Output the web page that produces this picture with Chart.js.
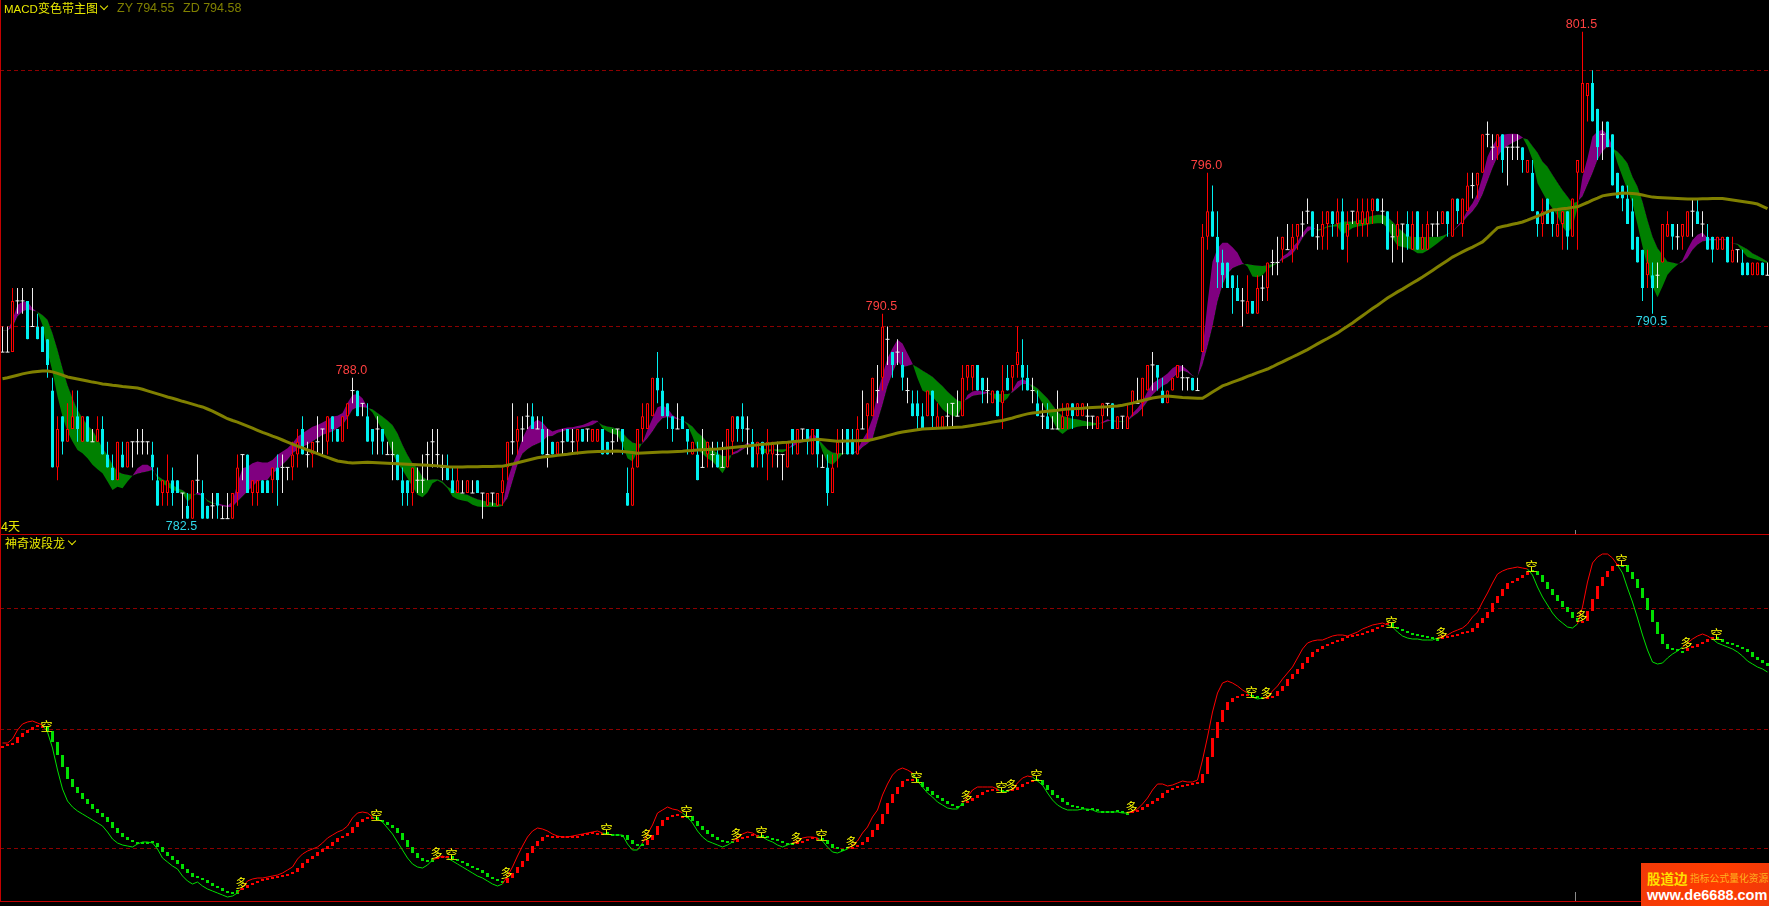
<!DOCTYPE html>
<html>
<head>
<meta charset="utf-8">
<title>MACD变色带主图</title>
<script src="https://cdn.jsdelivr.net/npm/chart.js@4/dist/chart.umd.min.js"></script>
<style>
    html, body { margin: 0; padding: 0; width: 1769px; height: 906px; background: #000; overflow: hidden; }
    canvas { position: absolute; left: 0; display: block; }
    #priceChart { top: 0; }
    #waveChart { top: 534px; }
    .rule { position: absolute; background: #c40000; }
    .mark { position: absolute; background: #8a8a8a; width: 1px; }
    .txt { position: absolute; white-space: pre; font: 12px/14px "Noto Sans CJK SC", sans-serif; color: #e8e800; }
    .num { font: 12.5px/14px "Liberation Sans", sans-serif; color: #808000; }
    .chev { position: absolute; width: 5px; height: 5px; border: solid #e8e800; border-width: 0 1px 1px 0; transform: rotate(45deg); }
    #logo { position: absolute; left: 1641px; top: 863px; width: 128px; height: 43px; overflow: hidden;
            background: linear-gradient(100deg, #f23a08, #ff3c00 60%, #f03a0a); }
    #logo span { position: absolute; white-space: pre; }
</style>
</head>
<body>
<canvas id="priceChart" width="1770" height="534"></canvas>
<canvas id="waveChart" width="1770" height="368"></canvas>

<div class="rule" style="left:0;top:0;width:1px;height:902px"></div>
<div class="rule" style="left:0;top:534px;width:1769px;height:1px"></div>
<div class="rule" style="left:0;top:901px;width:1769px;height:1px"></div>
<div class="mark" style="left:1575px;top:530px;height:4px"></div>
<div class="mark" style="left:1575px;top:892px;height:9px"></div>

<div class="txt" style="left:4px;top:1px"><span style="font:11.5px/14px 'Liberation Sans',sans-serif">MACD</span>变色带主图</div>
<div class="chev" style="left:101px;top:3px"></div>
<div class="txt num" style="left:117px;top:1px">ZY 794.55</div>
<div class="txt num" style="left:183px;top:1px">ZD 794.58</div>
<div class="txt" style="left:1px;top:519px"><span style="font:12.5px/14px 'Liberation Sans',sans-serif">4</span>天</div>
<div class="txt" style="left:5px;top:536px">神奇波段龙</div>
<div class="chev" style="left:69px;top:538px"></div>

<div id="logo">
    <span style="left:6px;top:4px;font:bold 13.5px/22px 'Noto Sans CJK SC',sans-serif;color:#ffe000">股道边</span>
    <span style="left:49px;top:8px;font:9.8px/14px 'Noto Sans CJK SC',sans-serif;color:#ffb020">指标公式量化资源</span>
    <span style="left:6px;top:23px;font:bold 14.5px/18px 'Liberation Sans',sans-serif;color:#fff">www.de6688.com</span>
</div>

<script>
// Price panel, one value per candle
const openPrice = [
    789,789,789,791,791,791,790,790,790,789.5,
    787.5,784.5,786.5,785.5,786,786.5,785.5,786.5,785.5,785.5,
    786,785,784.5,784,785,784.5,785.5,785.5,785.5,785.5,
    785,784,783.5,783.5,784,784,783.5,783,782.5,784,
    783.5,783,783,783.5,782.5,782.5,782.5,783.5,785,785,
    783.5,783.5,784,784,784,784.5,784.5,784.5,784.5,785,
    786,785,785,785.5,786,785.5,786.5,786,785.5,786.5,
    787.5,787.5,787,786.5,786,786,786,785,785,785,
    784,784,783.5,784,784,785,785.5,785,784.5,784.5,
    784,783.5,783.5,783.5,783.5,784,783.5,783,783.5,783,
    783.5,784.5,785.5,785.5,786,786.5,786.5,786,786,785,
    785.5,785,785.5,786,785.5,785.5,786,786,785.5,785.5,
    786,785.5,785.5,786,786,783.5,783,784.5,786,786,
    786.5,788,787.5,787,786.5,786,786.5,786,785,785,
    784.5,785,785,785,784.5,784.5,785.5,786.5,786.5,786,
    785.5,785,785.5,785,785,785,785,784.5,786,785,
    786,786,785,786,784.5,784.5,783.5,785,785.5,786,
    785.5,785,786,786.5,786.5,787.5,788,789.5,789,789,
    788.5,787.5,787,787,786.5,786.5,787.5,786,786,786.5,
    787,786.5,786.5,788,788,788.5,788,787.5,787,787.5,
    787,788,788,788.5,788.5,788,787.5,787,786.5,786.5,
    786,786,786,786.5,787,786.5,786.5,786.5,786.5,786,
    786.5,787,787,786,786.5,786,787,787,787,787.5,
    788.5,788.5,787.5,787,787.5,788,788,788,788,787.5,
    789,793.5,794.5,793.5,792.5,792.5,792,791.5,791,790.5,
    791,790.5,791.5,791.5,792.5,792.5,793,793,793,793.5,
    794,794.5,794.5,793.5,793.5,794,794.5,794,794.5,793.5,
    794.5,794,794,794,794.5,795,794.5,794.5,793.5,793.5,
    794,794,793,794.5,793,793,794,794,794,794.5,
    793.5,795,794,794.5,795.5,795.5,796,797.5,797,797,
    797.5,797,797,797,797,796,796,794.5,794,795,
    794.5,793.5,794,794.5,793.5,796,796,799,799.5,798.5,
    797.5,798,797.5,796,795.5,795,794.5,793.5,793,792,
    792,792,792.5,793.5,794,793.5,793.5,793.5,794.5,794.5,
    794,793.5,793.5,793,793,793.5,792.5,793,792.5,792.5,
    792,792,792.5,792
];
const closePrice = [
    789,789,791,791,791,789.5,790,789.5,789,788.5,
    784.5,786,785.5,786,786.5,786,786.5,785.5,785.5,786,
    785,784.5,784,785.5,784.5,785.5,785.5,785.5,785.5,785.5,
    784.5,783,784,784,783.5,783.5,783.5,782.5,784,784,
    782.5,782.5,783,783,782.5,782.5,783.5,784.5,785,783.5,
    784,784,783.5,783.5,784.5,784,784.5,784.5,785,785.5,
    785,785,785.5,785.5,786,786.5,786,785.5,786.5,787,
    787.5,786.5,787,785.5,785.5,786,785.5,785,785,784,
    783.5,783.5,784.5,784,784,785,785.5,785,784.5,784,
    783.5,784,783.5,784,783.5,783.5,783.5,783.5,783.5,783.5,
    784,785.5,785.5,786,786,786.5,786,786,785,785,
    785,785.5,785.5,785.5,785.5,786,785.5,786,786,786,
    785,785,785.5,786,785.5,783,784.5,786,786.5,787,
    788,787.5,786.5,786.5,786,786,786,785.5,785.5,784,
    784.5,785.5,785,784.5,784.5,786,786.5,786,786,786,
    784.5,785.5,785,785.5,785.5,785,785,785.5,785.5,786,
    786,785.5,786,785,784.5,783.5,784.5,785.5,785.5,785,
    785,786,786,787,788,787.5,790,789.5,788.5,789,
    788,787.5,786.5,786.5,786,787.5,786.5,786.5,786.5,786.5,
    787,786.5,788,788.5,788.5,787.5,787.5,787.5,787.5,786.5,
    787.5,787.5,788.5,789,788,787.5,787.5,786.5,786.5,786,
    786,786,786.5,787,786.5,787,787,786.5,786.5,786.5,
    787,787,786,786.5,786.5,786.5,787.5,787,788,788.5,
    788.5,788,787,787.5,788,788.5,788,788,787.5,787.5,
    793.5,794.5,793.5,792.5,792,791.5,791.5,791,791,791,
    790.5,791.5,791.5,792.5,792.5,792.5,793.5,793,793.5,794,
    794,794.5,793.5,793.5,794,794.5,794,794.5,793,794,
    794.5,794.5,794.5,794.5,795,794.5,794.5,793,793.5,794,
    794,793.5,794,793,793.5,794,794,794,794.5,794,
    795,794.5,795,795.5,795.5,796,797.5,797.5,797,797.5,
    796.5,797,797,797,796.5,796.5,794.5,794,794.5,794,
    794,794,794.5,793.5,795,796.5,799.5,799.5,798,797,
    797.5,797,795.5,795,795,794,793,792.5,791.5,792.5,
    791.5,792,794,794,793.5,793.5,794,794.5,794.5,794,
    794,793,793,793.5,793.5,792.5,793,793,792,792,
    792.5,792.5,792,792
];
const highPrice = [
    790,790,791.5,791.5,791.5,791,791.5,790.5,790,789.5,
    788,786.5,786.5,787,787.5,787.5,786.5,786.5,786,786.5,
    786.5,785.5,785,785.5,785.5,785.5,785.5,786,786,785.5,
    785.5,784.5,784,785,784.5,784,783.5,783.5,784,785,
    784,783,783.5,783.5,783,783.5,783.5,785,785,785,
    784,784,784,784,784.5,785,785,784.5,785.5,786,
    786.5,785.5,785.5,786.5,786,786.5,786.5,786,786.5,787,
    788,787.5,787,787,786,786.5,786,785.5,785.5,785,
    784.5,784,784.5,784.5,785,785.5,786,786,785,785,
    784.5,784.5,784,784,784,784,783.5,783.5,783.5,783.5,
    784.5,785.5,787,786.5,786.5,787,787,786.5,786.5,786,
    785.5,785.5,786,786,786,786,786,786,786,786,
    786,785.5,786,786,786,784.5,785,786,787,787,
    788,789,788,787,786.5,787,786.5,786,785.5,785.5,
    786,785.5,785.5,785.5,785.5,786,786.5,786.5,787,786.5,
    786,785.5,785.5,786,785.5,785.5,785,785.5,786,786,
    786,786,786,786,785,785,785,786,786,786,
    786,786.5,787.5,787,788,788.5,790.5,790,789,789.5,
    789,788,787.5,787.5,787,787.5,787.5,787,786.5,787,
    787,787.5,788.5,788.5,788.5,788.5,788,788,787.5,787.5,
    788.5,788.5,788.5,790,789.5,788.5,788,787.5,787,787,
    786.5,787.5,787,787,787,787,787,787,786.5,786.5,
    787,787,787,786.5,786.5,787,787.5,788,788,788.5,
    789,788.5,788,787.5,788,788.5,788.5,788,788,788,
    794,796,795.5,794.5,793,792.5,792,792,791.5,792,
    791,792,792,792.5,793,793.5,793.5,794,794,794,
    794.5,795,794.5,794,794.5,794.5,794.5,795,795,794.5,
    794.5,795,795,795,795,795,795,794.5,794,794.5,
    794,794.5,794.5,794.5,794,794.5,794,794.5,794.5,794.5,
    795,795,795,796,796,796,797.5,798,797.5,797.5,
    797.5,797,797.5,797.5,797,796.5,796.5,794.5,795,795,
    794.5,794.5,794.5,794.5,795,796.5,801.5,799.5,800,798.5,
    798,798,797.5,796,795.5,795.5,795,793.5,793,793,
    792.5,792.5,794,794.5,794,794,794,794.5,795,795,
    794.5,794,793.5,793.5,793.5,793.5,793.5,793,793,792.5,
    792.5,792.5,792.5,792.5
];
const lowPrice = [
    789,789,789,790.5,790.5,789.5,790,789.5,789,788,
    784.5,784,785,785.5,786,785.5,785.5,785.5,785.5,785.5,
    785,784.5,784,784,784.5,784.5,784.5,785,785,785,
    784,783,783,783,783,783.5,782.5,782.5,782.5,783.5,
    782.5,782.5,782.5,782.5,782.5,782.5,782.5,783,784,783.5,
    783,783,783.5,783.5,783.5,783,783.5,784,784,784.5,
    785,784.5,784.5,785,785,785,785.5,785.5,785.5,786,
    787,786.5,786.5,785.5,785,785,785,785,784,784,
    783,783,783,783.5,783.5,784,784.5,784.5,784,784,
    783.5,783.5,783.5,783.5,783.5,783.5,782.5,783,783,783,
    783,784,785,785,785.5,786,786,786,785,784.5,
    785,785,785,785.5,785,785,785.5,785.5,785.5,785.5,
    785,785,785,785.5,785,783,783,784.5,785.5,786,
    786.5,787,786.5,786,785.5,786,786,785,785,784,
    784.5,784.5,784.5,784.5,784.5,784.5,785,785.5,785.5,785,
    784.5,784.5,784.5,784,784.5,784.5,784,784.5,785,785,
    785.5,785,785,784.5,784.5,783,783.5,784.5,785,785,
    785,785,786,785.5,786.5,787,787.5,788.5,788,788.5,
    787.5,787,786.5,786,786,786.5,786,786,786,786,
    786,786.5,786.5,787.5,787.5,787.5,787,787,787,786.5,
    786,787.5,787.5,788,787.5,787.5,787,786.5,786,786,
    786,786,786,786,786,786.5,786.5,786,786,786,
    786,786.5,786,786,786,786,786.5,787,786.5,787.5,
    787.5,787.5,787,787,787.5,788,787.5,787.5,787.5,787.5,
    789,793,793.5,791.5,791.5,791.5,790.5,791,790,790.5,
    790.5,790.5,791,791,792,792,792.5,793,792.5,793,
    793.5,794,793.5,793,793,793,793.5,793.5,793,792.5,
    794,793.5,793.5,793.5,794,794.5,794,793,792.5,793,
    792.5,793,793,793,793,793,793.5,793.5,794,793.5,
    793.5,794,793.5,794.5,795,795,796,797,796.5,796.5,
    796,795.5,796.5,796.5,796,796,794.5,793.5,793.5,794,
    793.5,793.5,793,793,793.5,793,796,798,798,796.5,
    796.5,797,795.5,795,794.5,794,793,792.5,791,791.5,
    790.5,791.5,792.5,793.5,793,793,793,793.5,793.5,794,
    793.5,793,792.5,793,793,792.5,792.5,792.5,792,792,
    792,792,792,792
];

// The two edges of the colour band: purple where bandFast is above bandSlow, green below
const bandFast = [
    789.82,789.82,790.26,790.84,790.97,790.97,790.71,790.56,790.06,789.02,
    788.24,787.27,786.49,785.90,785.51,785.18,785.05,784.86,784.60,784.43,
    784.27,783.95,783.62,783.75,783.69,783.95,784.17,784.47,784.60,784.60,
    784.47,784.08,783.88,783.75,783.62,783.56,783.49,783.17,783.34,783.55,
    783.43,783.17,783.08,783.10,783.04,783.00,783.17,783.88,784.47,784.53,
    784.66,784.73,784.69,784.69,784.79,784.99,785.12,785.25,785.44,785.70,
    785.83,785.96,786.09,786.16,786.25,786.36,786.49,786.52,786.62,787.01,
    787.33,787.37,787.20,786.84,786.64,786.29,785.96,785.57,785.05,784.66,
    784.40,784.08,783.75,783.43,783.34,783.52,783.88,783.99,783.88,783.69,
    783.36,783.26,783.21,783.17,783.04,782.97,782.95,782.95,782.95,782.95,
    783.00,784.01,784.60,785.06,785.64,786.03,786.23,786.36,786.25,786.03,
    785.90,785.97,786.02,786.06,786.07,786.12,786.16,786.23,786.33,786.32,
    786.03,785.90,785.81,785.77,785.38,784.86,784.73,785.12,785.47,785.97,
    786.42,786.85,786.92,786.81,786.55,786.42,786.36,786.16,785.71,785.19,
    785.03,784.86,784.73,784.53,784.27,784.60,785.08,785.16,785.31,785.47,
    785.37,785.31,785.06,785.06,785.19,785.12,785.08,785.19,785.42,785.55,
    785.58,785.64,785.81,785.68,785.12,784.69,784.60,784.79,785.03,785.03,
    785.04,785.19,785.58,785.90,786.42,787.40,788.11,788.76,789.15,789.48,
    789.34,788.95,788.56,787.98,787.50,787.39,787.26,787.03,786.77,786.61,
    786.51,786.48,786.94,787.33,787.46,787.50,787.46,787.44,787.26,787.07,
    787.03,787.20,787.52,787.85,787.94,787.85,787.59,787.33,787.00,786.64,
    786.35,785.96,785.80,785.96,786.03,786.09,786.12,786.12,786.14,786.17,
    786.27,786.38,786.30,786.27,786.29,786.33,786.61,786.81,787.07,787.46,
    787.78,787.91,788.02,788.17,788.37,788.49,788.46,788.30,788.09,788.03,
    789.08,790.90,792.53,793.05,793.27,793.27,793.09,792.88,792.49,792.34,
    791.95,791.92,792.00,792.23,792.36,792.47,792.73,792.86,793.09,793.31,
    793.64,793.90,793.90,793.74,793.79,793.87,793.90,793.90,793.58,793.71,
    793.84,793.90,793.93,793.97,794.01,794.03,794.03,793.84,793.45,793.15,
    793.10,793.06,792.99,792.86,792.86,792.97,793.10,793.25,793.41,793.59,
    793.71,793.93,794.16,794.55,794.81,795.20,795.85,796.63,797.05,797.35,
    797.48,797.51,797.52,797.51,797.39,797.03,796.51,795.59,795.23,794.88,
    794.62,794.32,793.90,793.64,793.90,794.62,795.85,796.57,797.42,797.61,
    797.68,797.48,797.03,796.37,795.85,795.33,794.81,793.97,793.12,792.34,
    791.56,791.14,791.56,792.02,792.24,792.41,792.60,793.02,793.38,793.58,
    793.67,793.45,793.41,793.43,793.43,793.38,793.24,793.19,792.93,792.71,
    792.65,792.60,792.54,792.47
];
const bandSlow = [
    789.84,789.84,789.97,790.39,790.58,790.67,790.61,790.58,790.45,790.26,
    789.74,789.09,788.37,787.72,787.20,786.75,786.42,786.16,785.94,785.64,
    785.25,784.99,784.60,784.34,784.25,784.21,784.17,784.25,784.30,784.34,
    784.40,784.17,784.04,783.95,783.82,783.69,783.62,783.47,783.47,783.43,
    783.39,783.23,783.13,783.04,782.97,782.95,782.95,783.17,783.36,783.56,
    783.75,783.95,784.01,784.01,784.27,784.40,784.60,784.79,785.05,785.18,
    785.31,785.38,785.51,785.64,785.77,785.83,785.90,786.03,786.16,786.42,
    786.75,786.85,786.85,786.82,786.77,786.62,786.49,786.33,786.16,785.83,
    785.38,784.99,784.66,784.47,784.14,784.01,784.04,784.04,783.95,783.75,
    783.65,783.56,783.47,783.43,783.34,783.26,783.21,783.16,783.13,783.09,
    783.03,783.30,783.95,784.60,785.03,785.21,785.34,785.42,785.51,785.71,
    785.73,785.84,785.90,785.97,785.99,786.02,786.06,786.10,786.16,786.27,
    786.16,786.10,786.07,785.99,785.86,785.64,785.47,785.42,785.42,785.64,
    785.90,786.20,786.42,786.46,786.42,786.38,786.34,786.23,786.10,785.86,
    785.71,785.45,785.19,785.06,784.95,784.95,784.99,785.06,785.19,785.31,
    785.34,785.30,785.24,785.21,785.21,785.21,785.21,785.22,785.31,785.42,
    785.47,785.55,785.60,785.63,785.42,785.21,785.08,785.06,785.06,785.04,
    785.06,785.08,785.29,785.42,785.60,786.29,786.94,787.66,788.18,788.63,
    788.41,788.46,788.52,788.41,788.28,788.17,788.04,787.85,787.68,787.46,
    787.29,787.11,787.07,787.16,787.29,787.33,787.35,787.39,787.39,787.37,
    787.37,787.37,787.42,787.59,787.76,787.76,787.72,787.59,787.39,787.20,
    786.94,786.68,786.51,786.46,786.40,786.38,786.33,786.29,786.25,786.22,
    786.22,786.29,786.35,786.31,786.31,786.31,786.48,786.61,786.81,787.07,
    787.33,787.52,787.68,787.78,787.98,788.17,788.28,788.20,788.07,788.04,
    788.50,789.21,789.99,790.97,791.62,792.05,792.27,792.36,792.43,792.44,
    792.40,792.38,792.36,792.40,792.44,792.49,792.60,792.70,792.83,793.09,
    793.44,793.70,793.82,793.79,793.83,793.92,793.95,794.03,794.10,794.10,
    794.10,794.14,794.19,794.27,794.32,794.36,794.36,794.27,794.10,793.88,
    793.71,793.54,793.49,793.49,793.49,793.49,793.49,793.49,793.54,793.62,
    793.70,793.88,794.06,794.29,794.49,794.75,795.14,795.66,796.18,796.63,
    796.90,797.05,797.16,797.26,797.36,797.31,797.05,796.79,796.44,796.24,
    795.92,795.62,795.33,795.07,794.81,794.88,795.07,795.53,795.98,796.50,
    796.83,797.03,796.96,796.83,796.63,796.37,795.85,795.46,794.88,794.16,
    793.51,793.06,792.80,792.54,792.50,792.45,792.50,792.67,792.99,793.19,
    793.32,793.36,793.36,793.37,793.38,793.37,793.25,793.23,793.12,793.02,
    792.86,792.76,792.65,792.54
];
const maLine = [
    787.96,788.00,788.05,788.10,788.15,788.19,788.22,788.24,788.26,788.26,
    788.23,788.17,788.10,788.03,787.99,787.95,787.91,787.87,787.83,787.80,
    787.76,787.74,787.71,787.69,787.66,787.64,787.62,787.60,787.55,787.49,
    787.43,787.37,787.31,787.25,787.20,787.14,787.08,787.03,786.97,786.91,
    786.86,786.78,786.70,786.60,786.50,786.40,786.33,786.27,786.19,786.11,
    786.03,785.95,785.87,785.80,785.72,785.65,785.57,785.49,785.41,785.33,
    785.26,785.18,785.11,785.04,784.96,784.89,784.82,784.75,784.72,784.69,
    784.67,784.68,784.69,784.70,784.69,784.68,784.67,784.66,784.65,784.64,
    784.63,784.62,784.61,784.60,784.59,784.58,784.57,784.56,784.55,784.53,
    784.52,784.52,784.52,784.53,784.53,784.53,784.54,784.54,784.54,784.55,
    784.55,784.59,784.63,784.68,784.73,784.78,784.83,784.88,784.91,784.93,
    784.95,784.97,784.99,785.01,785.04,785.06,785.08,785.10,785.11,785.12,
    785.12,785.13,785.13,785.14,785.12,785.10,785.08,785.05,785.06,785.07,
    785.08,785.09,785.10,785.10,785.11,785.12,785.13,785.15,785.16,785.18,
    785.19,785.20,785.21,785.22,785.24,785.26,785.28,785.30,785.32,785.34,
    785.36,785.38,785.40,785.41,785.43,785.45,785.47,785.48,785.50,785.52,
    785.54,785.56,785.58,785.60,785.58,785.56,785.54,785.52,785.53,785.53,
    785.54,785.54,785.55,785.55,785.59,785.64,785.69,785.74,785.79,785.84,
    785.88,785.91,785.94,785.97,786.00,786.01,786.02,786.03,786.04,786.05,
    786.06,786.07,786.08,786.11,786.14,786.17,786.20,786.23,786.27,786.30,
    786.33,786.38,786.43,786.49,786.54,786.59,786.62,786.64,786.67,786.69,
    786.71,786.73,786.76,786.78,786.79,786.80,786.81,786.83,786.84,786.85,
    786.86,786.87,786.89,786.90,786.93,786.97,787.01,787.06,787.11,787.16,
    787.21,787.24,787.27,787.29,787.27,787.25,787.23,787.22,787.21,787.20,
    787.20,787.32,787.44,787.56,787.68,787.75,787.83,787.90,787.97,788.05,
    788.12,788.20,788.27,788.34,788.43,788.53,788.62,788.72,788.81,788.90,
    789.00,789.10,789.21,789.32,789.43,789.53,789.64,789.75,789.88,790.01,
    790.14,790.28,790.42,790.56,790.70,790.83,790.97,791.11,791.23,791.35,
    791.46,791.58,791.70,791.81,791.93,792.06,792.19,792.32,792.45,792.58,
    792.71,792.81,792.91,793.01,793.10,793.20,793.30,793.48,793.67,793.85,
    793.90,793.94,793.99,794.03,794.08,794.15,794.23,794.31,794.39,794.47,
    794.55,794.57,794.60,794.62,794.65,794.67,794.76,794.84,794.93,795.01,
    795.10,795.13,795.16,795.18,795.21,795.20,795.19,795.17,795.13,795.09,
    795.05,795.04,795.03,795.02,795.01,795.00,794.99,794.98,794.98,794.98,
    794.99,794.99,795.00,795.00,795.00,794.97,794.94,794.91,794.88,794.85,
    794.82,794.78,794.69,794.60
];
const priceLevels = [790, 800];
const highMarks = [70, 176, 241, 316];
const lowMarks = [36, 330];

// Wave panel (the scale has no labels, so the units are arbitrary)
const waveBlock = [
    155,156,158,164,168,171,174,175,175,170,
    159,146,134,122,114,108,102,97,92,88,
    84,79,73,68,64,61,59,59,59,59,
    58,54,49,45,41,37,32,28,24,23,
    21,18,15,13,10,8,7,11,13,16,
    18,20,21,22,23,24,25,27,29,33,
    38,42,45,49,52,55,59,63,65,68,
    74,79,82,84,84,81,79,76,73,68,
    61,54,48,43,40,39,42,43,45,45,
    42,40,38,35,33,31,28,24,22,20,
    18,23,28,34,40,48,55,60,64,65,
    65,65,65,65,65,65,66,67,68,68,
    68,67,65,66,66,61,57,55,56,61,
    66,75,81,84,86,85,85,85,80,75,
    71,67,64,61,59,58,59,62,63,65,
    66,66,64,63,61,60,58,56,57,58,
    60,62,63,63,61,57,53,52,52,54,
    54,56,59,64,71,77,87,98,107,114,
    120,122,122,119,114,110,106,103,100,97,
    95,95,98,100,103,106,109,110,111,110,
    109,110,111,114,117,119,120,121,116,111,
    106,103,99,96,94,93,92,92,91,90,
    90,90,90,89,88,88,89,91,94,97,
    100,103,108,111,113,114,115,116,117,118,
    127,144,163,179,191,199,203,205,206,205,
    204,203,202,203,205,210,215,222,227,232,
    238,244,249,252,255,257,259,260,263,264,
    265,266,268,269,272,274,276,278,274,272,
    270,268,266,265,264,263,262,262,263,264,
    265,267,268,269,273,278,283,289,298,305,
    312,318,320,323,326,329,330,326,319,312,
    306,300,294,289,283,280,280,290,302,315,
    324,330,335,336,336,329,322,313,303,291,
    279,267,257,252,251,250,250,253,254,257,
    259,262,263,262,259,257,256,254,252,249,
    244,241,238,235
];
const waveLine = [
    158,158,162,171,177,179,180,178,176,169,
    153,131,112,100,94,90,87,84,81,78,
    75,69,62,58,56,55,54,57,59,59,
    58,52,43,39,35,32,25,20,17,19,
    15,12,10,8,6,4,5,8,14,20,
    22,23,23,24,25,26,28,31,34,42,
    47,50,52,54,58,63,66,69,71,75,
    83,88,89,88,84,82,79,73,67,59,
    51,43,37,34,33,36,41,43,45,43,
    40,37,34,31,28,25,23,20,17,15,
    17,25,34,45,55,64,70,73,72,70,
    67,65,64,64,65,66,67,68,69,70,
    68,67,66,66,66,57,51,51,58,67,
    76,88,91,94,92,91,88,84,78,70,
    64,60,58,56,54,56,59,64,67,69,
    68,65,64,61,59,56,54,56,58,60,
    63,64,64,63,60,54,49,48,50,52,
    56,60,68,74,84,91,106,117,126,131,
    133,131,128,120,114,108,104,99,96,93,
    92,92,98,104,111,114,114,114,114,112,
    109,110,112,118,123,125,124,120,116,108,
    101,96,93,91,91,91,92,92,91,89,
    89,89,89,89,88,88,89,92,97,103,
    111,117,117,115,116,118,120,119,119,121,
    141,164,189,208,218,220,218,215,211,208,
    204,202,203,204,210,215,222,228,234,243,
    252,258,260,261,261,263,265,266,266,265,
    267,269,272,274,276,277,278,276,274,269,
    265,263,262,262,261,261,261,263,265,266,
    269,271,273,277,284,289,299,308,318,327,
    330,332,333,334,333,332,326,314,304,296,
    288,282,278,274,273,277,294,319,338,344,
    347,347,343,336,328,313,299,283,266,251,
    239,237,238,243,247,250,254,258,262,265,
    267,265,262,258,256,254,252,249,245,240,
    237,234,232,229
];
const waveLevels = [53, 172, 292];
const shortSignals = [9, 75, 90, 121, 137, 152, 164, 183, 200, 207, 250, 278, 306, 324, 343]; // 空
const longSignals = [48, 87, 101, 129, 147, 159, 170, 193, 202, 226, 253, 288, 316, 337];     // 多

const RED = '#ff0000', CYAN = '#00f0f0', WHITE = '#f0f0f0';
const FONT_NUM = '12.5px "Liberation Sans", sans-serif';
const candleIndex = openPrice.map((_, i) => i);

function candleColor(i) {
    if (closePrice[i] > openPrice[i]) return RED;
    if (closePrice[i] < openPrice[i]) return CYAN;
    return WHITE;
}

// Hidden axes filling the whole canvas, only the dashed level lines stay visible
function hiddenX() {
    return {
        type: 'category',
        offset: true,
        grid: { display: false },
        border: { display: false },
        ticks: { display: false },
        afterFit: s => { s.height = 0; }
    };
}

function levelY(min, max, levels) {
    return {
        min: min,
        max: max,
        grid: { color: '#8c0000', lineWidth: 1, drawTicks: false },
        border: { display: false, dash: [4, 3] },
        ticks: { display: false },
        afterFit: s => { s.width = 0; },
        afterBuildTicks: s => { s.ticks = levels.map(v => ({ value: v })); }
    };
}

const commonOptions = {
    responsive: false,
    animation: false,
    events: [],
    layout: { padding: 0, autoPadding: false },
    elements: { point: { radius: 0 }, line: { tension: 0 } },
    plugins: { legend: { display: false }, tooltip: { enabled: false } }
};

// High and low marks above/below the wicks
const priceLabels = {
    id: 'priceLabels',
    afterDatasetsDraw(chart) {
        const { ctx, scales: { x, y } } = chart;
        ctx.save();
        ctx.font = FONT_NUM;
        ctx.textAlign = 'center';
        ctx.textBaseline = 'middle';
        ctx.fillStyle = '#ff4040';
        highMarks.forEach(i => {
            ctx.fillText(highPrice[i].toFixed(1), x.getPixelForValue(i) - 1, y.getPixelForValue(highPrice[i]) - 7.5);
        });
        ctx.fillStyle = '#30d8e8';
        lowMarks.forEach(i => {
            ctx.fillText(lowPrice[i].toFixed(1), x.getPixelForValue(i) - 1, y.getPixelForValue(lowPrice[i]) + 8);
        });
        ctx.restore();
    }
};

new Chart(document.getElementById('priceChart'), {
    type: 'bar',
    plugins: [priceLabels],
    data: {
        labels: candleIndex,
        datasets: [
            { type: 'line', label: 'bandSlow', data: bandSlow, borderWidth: 0, order: 5 },
            {
                type: 'line', label: 'bandFast', data: bandFast, borderWidth: 0, order: 5,
                fill: { target: 0, above: '#800080', below: '#008000' }
            },
            {
                label: 'wick',
                data: candleIndex.map(i => [lowPrice[i], highPrice[i]]),
                backgroundColor: candleIndex.map(candleColor),
                barThickness: 1, grouped: false, inflateAmount: 0, order: 4
            },
            {
                label: 'body',
                data: candleIndex.map(i => (openPrice[i] === closePrice[i] ? null : [openPrice[i], closePrice[i]])),
                backgroundColor: candleIndex.map(i => (closePrice[i] > openPrice[i] ? '#000000' : CYAN)),
                borderColor: candleIndex.map(candleColor),
                borderWidth: 1, borderSkipped: false,
                barThickness: 3, grouped: false, inflateAmount: 0, order: 3
            },
            {
                type: 'line', label: 'doji',
                data: candleIndex.map(i => (openPrice[i] === closePrice[i] ? closePrice[i] : null)),
                showLine: false, pointStyle: 'line', pointRadius: 2,
                pointBorderColor: WHITE, pointBorderWidth: 1, order: 2
            },
            { type: 'line', label: 'MA', data: maLine, borderColor: '#808000', borderWidth: 3, order: 1 }
        ]
    },
    options: {
        ...commonOptions,
        scales: { x: hiddenX(), y: levelY(781.901, 802.744, priceLevels) }
    }
});

// red while long, green while short, from the signal lists
const waveState = [];
candleIndex.forEach(i => {
    if (shortSignals.includes(i)) waveState[i] = false;
    else if (longSignals.includes(i)) waveState[i] = true;
    else waveState[i] = i === 0 ? true : waveState[i - 1];
});
const waveColor = i => (waveState[i] ? '#ff0000' : '#00e000');

const signalLabels = {
    id: 'signalLabels',
    afterDatasetsDraw(chart) {
        const { ctx, scales: { x, y } } = chart;
        const put = (i, text) => ctx.fillText(text, x.getPixelForValue(i) - 1, y.getPixelForValue(waveBlock[i]) - 5);
        ctx.save();
        ctx.font = '12px "Noto Sans CJK SC", sans-serif';
        ctx.textAlign = 'center';
        ctx.textBaseline = 'middle';
        ctx.fillStyle = '#ffff00';
        shortSignals.forEach(i => put(i, '空'));
        longSignals.forEach(i => put(i, '多'));
        ctx.restore();
    }
};

new Chart(document.getElementById('waveChart'), {
    type: 'bar',
    plugins: [signalLabels],
    data: {
        labels: candleIndex,
        datasets: [
            {
                label: 'block',
                data: candleIndex.map(i => [waveBlock[Math.max(i - 1, 0)], waveBlock[i]]),
                backgroundColor: candleIndex.map(waveColor),
                barThickness: 3, minBarLength: 2, grouped: false, inflateAmount: 0, order: 2
            },
            {
                type: 'line', label: 'line', data: waveLine, borderWidth: 1, borderColor: '#ff0000', order: 1,
                segment: { borderColor: ctx => waveColor(ctx.p1DataIndex) }
            }
        ]
    },
    options: {
        ...commonOptions,
        scales: { x: hiddenX(), y: levelY(-1, 367, waveLevels) }
    }
});
</script>
</body>
</html>
